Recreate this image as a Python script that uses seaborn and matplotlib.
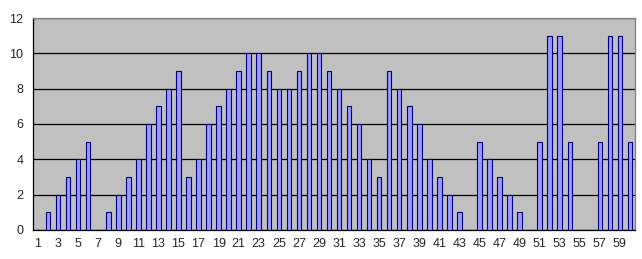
import matplotlib
matplotlib.use("Agg")
import matplotlib.pyplot as plt
import seaborn as sns
import pandas as pd
import numpy as np

categories = list(range(1, 61))
values = [0, 1, 2, 3, 4, 5, 0, 1, 2, 3,
          4, 6, 7, 8, 9, 3, 4, 6, 7, 8,
          9, 10, 10, 9, 8, 8, 9, 10, 10, 9,
          8, 7, 6, 4, 3, 9, 8, 7, 6, 4,
          3, 2, 1, 0, 5, 4, 3, 2, 1, 0,
          5, 11, 11, 5, 0, 0, 5, 11, 11, 5]
y_ticks = [0, 2, 4, 6, 8, 10, 12]

df = pd.DataFrame({"cat": [str(c) for c in categories], "val": values})

sns.set_style("white")
plt.rcParams['font.family'] = ['Liberation Sans', 'DejaVu Sans']

fig = plt.figure(figsize=(6.42, 2.59), dpi=100)
ax = fig.add_axes([33/642, 1 - 230/259, (635 - 33)/642, (230 - 18)/259])
ax.set_facecolor("#C0C0C0")

sns.barplot(data=df, x="cat", y="val", order=[str(c) for c in categories],
            color="#9999FF", edgecolor="#000080", linewidth=0.8,
            width=0.45, saturation=1, ax=ax, zorder=3)

ax.set_xlim(-0.5, len(categories) - 0.5)
ax.set_ylim(0, 12)
ax.set_yticks(y_ticks)
ax.yaxis.grid(True, color="black", linewidth=0.9, zorder=1)
ax.set_axisbelow(True)

ax.set_xticks(np.arange(0, len(categories), 2))
ax.set_xticklabels([str(c) for c in categories[::2]])
ax.set_xticks(np.arange(-0.5, len(categories), 1), minor=True)
ax.tick_params(axis="x", which="major", length=0, pad=6, labelsize=9)
ax.tick_params(axis="x", which="minor", length=4, width=0.9, color="black", direction="out")
ax.tick_params(axis="y", which="major", length=4, width=0.9, color="black", direction="out", labelsize=9, pad=3)

ax.set_xlabel("")
ax.set_ylabel("")
for side in ["left", "bottom"]:
    ax.spines[side].set_color("black")
    ax.spines[side].set_linewidth(0.9)
for side in ["top", "right"]:
    ax.spines[side].set_color("#808080")
    ax.spines[side].set_linewidth(0.9)

fig.savefig("out.png", dpi=100, facecolor="white")
